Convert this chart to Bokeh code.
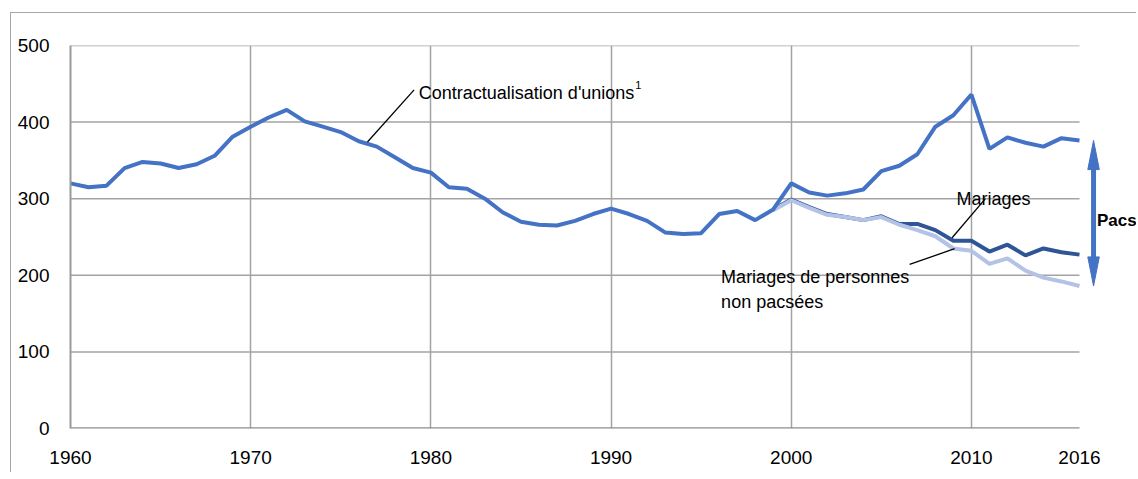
from bokeh.plotting import figure
from bokeh.models import FixedTicker, Label, Range1d
from bokeh.embed import file_html
from bokeh.resources import INLINE

# ---- data (thousands) ----
years = list(range(1960, 2017))
contract = [320, 315, 317, 340, 348, 346, 340, 345, 356, 381,
            394, 406, 416, 401, 394, 387, 375, 368, 354, 340,
            334, 315, 313, 300, 282, 270, 266, 265, 271, 280,
            287, 280, 271, 256, 254, 255, 280, 284, 272, 286,
            320, 308, 304, 307, 312, 336, 343, 358, 394, 409,
            436, 365, 380, 373, 368, 379, 376]
mar_years = list(range(1999, 2017))
mariages = [286, 299, 289, 280, 276, 272, 277, 267, 267, 259,
            245, 245, 231, 240, 226, 235, 230, 227]
non_pacses = [285, 298, 288, 279, 276, 272, 276, 266, 259, 251,
              235, 232, 215, 222, 206, 197, 192, 186]
x_ticks = [1960, 1970, 1980, 1990, 2000, 2010, 2016]
x_grid = [1970, 1980, 1990, 2000, 2010]
y_ticks = [0, 100, 200, 300, 400, 500]
y_grid = [100, 200, 300, 400, 500]

FONT = "Liberation Sans"
C_CONTRACT = "#4472C4"
C_MAR = "#2F5597"
C_NONPACS = "#B4C2E6"
GRID = "#a3a3a3"

X0, X1 = 1960, 2016
# frame extends past 2016 so that the Pacs arrow and label can sit right of the data
X_END = X0 + (X1 - X0) * 1067 / 1009

p = figure(width=1126, height=460,
           x_range=Range1d(X0, X_END), y_range=Range1d(0, 500),
           output_backend="svg", toolbar_location=None,
           min_border_left=59, min_border_right=0,
           min_border_top=32, min_border_bottom=45)
p.margin = (12, 0, 0, 10)
p.styles = {"border-left": "1.5px solid #a6a6a6", "border-top": "1.5px solid #a6a6a6"}
p.outline_line_color = None
p.background_fill_color = "white"
p.border_fill_color = "white"

# axes
p.xaxis.ticker = FixedTicker(ticks=x_ticks)
p.yaxis.ticker = FixedTicker(ticks=y_ticks)
for ax in (p.xaxis[0], p.yaxis[0]):
    ax.major_tick_line_color = None
    ax.minor_tick_line_color = None
    ax.major_label_text_font = FONT
    ax.major_label_text_font_size = "19px"
    ax.major_label_text_color = "black"
p.xaxis.axis_line_color = None
p.xaxis.major_label_standoff = 16
p.yaxis.axis_line_color = "#9a9a9a"
p.yaxis.axis_line_width = 2
p.yaxis.major_label_standoff = 15

p.xgrid.ticker = FixedTicker(ticks=x_grid)
p.xgrid.grid_line_color = GRID
p.xgrid.grid_line_width = 1.5
p.ygrid.grid_line_color = None

# horizontal grid lines and base line limited to 1960-2016
p.segment(x0=[X0] * len(y_grid), y0=y_grid, x1=[X1] * len(y_grid), y1=y_grid,
          line_color=GRID, line_width=1.5)
p.segment(x0=[X0], y0=[0], x1=[X1], y1=[0], line_color="#8c8c8c", line_width=2.5)

# series
p.line(mar_years, mariages, line_color=C_MAR, line_width=4)
p.line(mar_years, non_pacses, line_color=C_NONPACS, line_width=4)
p.line(years, contract, line_color=C_CONTRACT, line_width=4)

# leader lines (annotation positions)
p.line([1979.07, 1976.48], [442, 374], line_color="black", line_width=1.3)
p.line([2010.78, 2008.93], [300, 249], line_color="black", line_width=1.3)
p.line([2009.07, 2006.57], [234.7, 214.2], line_color="black", line_width=1.3)

def lab(x, y, text, size="18px", style="normal"):
    p.add_layout(Label(x=x, y=y, text=text, text_font=FONT, text_font_size=size,
                       text_font_style=style, text_color="black",
                       text_baseline="alphabetic", text_align="left"))

lab(1979.33, 438, "Contractualisation d'unions")
lab(1991.35, 448, "1", size="11px")
lab(2009.17, 299.5, "Mariages")
lab(1996.11, 197.7, "Mariages de personnes")
lab(1996.11, 165, "non pacsées")
lab(1960.28, 512, "En milliers", style="bold italic")
lab(2016.97, 271.7, "Pacs", size="17px", style="bold")

# Pacs double arrow: span between the 2016 totals
ax_x = 2016.78
top, bot = contract[-1], non_pacses[-1]
head_len, head_w = 38, 0.32
p.line([ax_x, ax_x], [bot + head_len - 4, top - head_len + 4],
       line_color=C_CONTRACT, line_width=5)
p.patches(xs=[[ax_x, ax_x - head_w, ax_x + head_w], [ax_x, ax_x - head_w, ax_x + head_w]],
          ys=[[top, top - head_len, top - head_len], [bot, bot + head_len, bot + head_len]],
          fill_color=C_CONTRACT, line_color=C_CONTRACT, line_width=1)

open("out.html", "w").write(file_html(p, INLINE))
